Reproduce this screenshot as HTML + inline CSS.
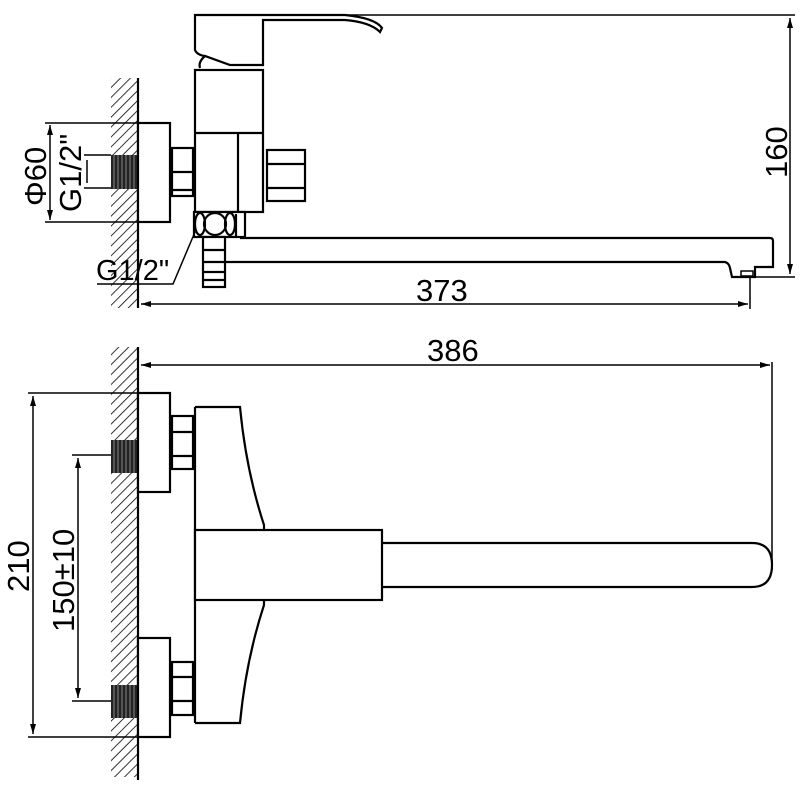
<!DOCTYPE html>
<html><head><meta charset="utf-8"><style>html,body{margin:0;padding:0;background:#fff}svg{display:block}</style></head>
<body>
<svg width="800" height="800" viewBox="0 0 800 800" xmlns="http://www.w3.org/2000/svg" font-family="Liberation Sans, Arial, sans-serif">
<defs>
<pattern id="h" width="7" height="7" patternUnits="userSpaceOnUse" patternTransform="rotate(45)">
<line x1="0" y1="0" x2="0" y2="7" stroke="#000" stroke-width="1.6"/>
</pattern>
<pattern id="t" width="4" height="4" patternUnits="userSpaceOnUse">
<rect width="4" height="4" fill="#222"/><line x1="2" y1="0" x2="2" y2="4" stroke="#888" stroke-width="1"/>
</pattern>
<marker id="a" viewBox="0 0 10 6" refX="10" refY="3" markerWidth="10" markerHeight="6" orient="auto-start-reverse" markerUnits="userSpaceOnUse"><path d="M0,0 L10,3 L0,6 Z" fill="#000"/></marker>
</defs>
<g fill="none" stroke="#000" stroke-width="2.2">
<!-- TOP VIEW -->
<rect x="111" y="78" width="27" height="230" fill="url(#h)" stroke="none"/>
<line x1="138" y1="78" x2="138" y2="308"/>
<rect x="111" y="155" width="27" height="34" fill="url(#t)" stroke="none"/>
<rect x="138" y="123" width="32" height="99" fill="#fff"/>
<line x1="45" y1="123" x2="138" y2="123" stroke-width="1.5"/>
<line x1="45" y1="222" x2="138" y2="222" stroke-width="1.5"/>
<line x1="50" y1="125" x2="50" y2="220" stroke-width="1.5" marker-start="url(#a)" marker-end="url(#a)"/>
<line x1="84" y1="155" x2="111" y2="155" stroke-width="1.5"/>
<line x1="84" y1="188" x2="111" y2="188" stroke-width="1.5"/>
<line x1="87" y1="160" x2="87" y2="183" stroke-width="1.5"/>
<!-- nut left -->
<rect x="172" y="148" width="21" height="48"/>
<line x1="172" y1="172" x2="193" y2="172"/>
<line x1="172" y1="190" x2="193" y2="190"/>
<!-- handle -->
<path d="M195,15 L195,50 Q197,55 205,56 L230,65 L263,65 L263,20 L345,20 Q370,22 380,32 L382,28 Q375,18 345,15 Z" fill="#fff"/>
<path d="M200,68 Q198,62 205,56"/>
<!-- body -->
<rect x="195" y="70" width="68" height="142" fill="#fff"/>
<line x1="195" y1="133" x2="263" y2="133"/>
<line x1="238" y1="133" x2="238" y2="212"/>
<!-- right nut -->
<rect x="267" y="150" width="38" height="51"/>
<line x1="267" y1="164" x2="305" y2="164"/>
<line x1="267" y1="188" x2="305" y2="188"/>
<!-- bottom nut cluster -->
<rect x="194" y="212" width="51" height="25" fill="#fff"/>
<ellipse cx="200" cy="224" rx="5" ry="11"/>
<circle cx="215" cy="224" r="11"/>
<ellipse cx="230" cy="224" rx="5" ry="11"/>
<line x1="236" y1="214" x2="236" y2="236"/>
<!-- barb -->
<rect x="203" y="237" width="22" height="50" fill="#fff"/>
<line x1="203" y1="250" x2="225" y2="250"/>
<line x1="203" y1="262" x2="225" y2="262"/>
<line x1="203" y1="272" x2="225" y2="272"/>
<line x1="203" y1="280" x2="225" y2="280"/>
<!-- spout -->
<path d="M240,238 L770,238 Q773,238 773,241 L773,267 L755,267 L755,277 L732,277 L730,268 Q729,263 725,262 L225,262"/>
<rect x="741" y="271" width="12" height="5" stroke-width="1.5"/>
<!-- 160 -->
<line x1="263" y1="15" x2="795" y2="15" stroke-width="1.5"/>
<line x1="755" y1="277" x2="795" y2="277" stroke-width="1.5"/>
<line x1="790" y1="18" x2="790" y2="274" stroke-width="1.5" marker-start="url(#a)" marker-end="url(#a)"/>
<!-- 373 -->
<line x1="141" y1="304" x2="748" y2="304" stroke-width="1.5" marker-start="url(#a)" marker-end="url(#a)"/>
<line x1="750" y1="278" x2="750" y2="309" stroke-width="1.5"/>
<!-- G1/2 leader -->
<polyline points="97,284 173,284 195,232" stroke-width="1.5"/>

<!-- BOTTOM VIEW -->
<rect x="111" y="347" width="27" height="430" fill="url(#h)" stroke="none"/>
<line x1="138" y1="347" x2="138" y2="780"/>
<rect x="111" y="440" width="27" height="33" fill="url(#t)" stroke="none"/>
<rect x="111" y="685" width="27" height="33" fill="url(#t)" stroke="none"/>
<line x1="141" y1="365" x2="770" y2="365" stroke-width="1.5" marker-start="url(#a)" marker-end="url(#a)"/>
<line x1="772" y1="362" x2="772" y2="570" stroke-width="1.5"/>
<rect x="138" y="393" width="32" height="99" fill="#fff"/>
<rect x="138" y="638" width="32" height="99" fill="#fff"/>
<line x1="28" y1="393" x2="138" y2="393" stroke-width="1.5"/>
<line x1="28" y1="737" x2="138" y2="737" stroke-width="1.5"/>
<line x1="33" y1="396" x2="33" y2="734" stroke-width="1.5" marker-start="url(#a)" marker-end="url(#a)"/>
<line x1="72" y1="455" x2="111" y2="455" stroke-width="1.5"/>
<line x1="72" y1="701" x2="111" y2="701" stroke-width="1.5"/>
<line x1="78" y1="458" x2="78" y2="698" stroke-width="1.5" marker-start="url(#a)" marker-end="url(#a)"/>
<rect x="172" y="416" width="21" height="53"/>
<line x1="172" y1="432" x2="193" y2="432"/>
<line x1="172" y1="456" x2="193" y2="456"/>
<rect x="172" y="662" width="21" height="53"/>
<line x1="172" y1="677" x2="193" y2="677"/>
<line x1="172" y1="701" x2="193" y2="701"/>
<line x1="195" y1="407" x2="195" y2="723"/>
<path d="M195,407 L240,407 Q246,470 264,525 L264,530"/>
<path d="M264,600 L264,605 Q246,660 240,723 L195,723"/>
<rect x="195" y="530" width="187" height="70" fill="#fff"/>
<path d="M382,543 L752,543 Q772,543 772,565 Q772,587 752,587 L382,587"/>
</g>
<g fill="#000" font-size="31">
<text x="416" y="301">373</text>
<text x="427" y="361">386</text>
<text x="96" y="280" font-size="29">G1/2"</text>
<text transform="translate(46,206) rotate(-90)">Φ60</text>
<text transform="translate(81,212) rotate(-90)">G1/2"</text>
<text transform="translate(787,178) rotate(-90)">160</text>
<text transform="translate(29,592) rotate(-90)">210</text>
<text transform="translate(74,632) rotate(-90)">150±10</text>
</g>
</svg>
</body></html>
